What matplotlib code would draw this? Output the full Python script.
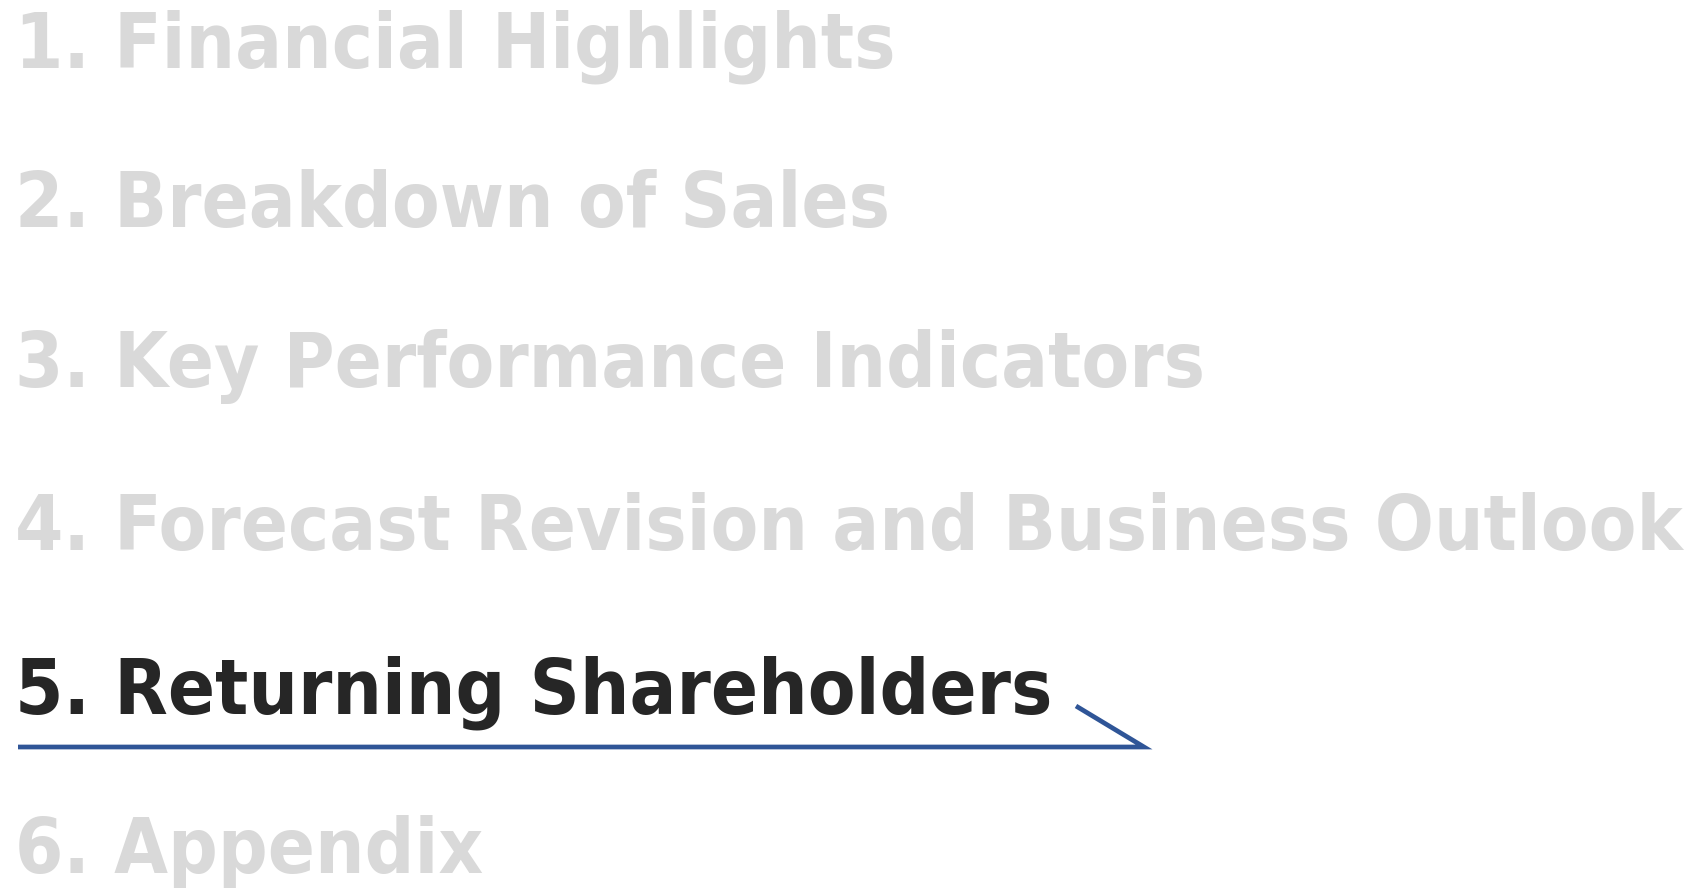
import matplotlib
matplotlib.use("Agg")
import matplotlib.pyplot as plt
from matplotlib.font_manager import FontProperties

items = ["1. Financial Highlights", "2. Breakdown of Sales", "3. Key Performance Indicators",
         "4. Forecast Revision and Business Outlook", "5. Returning Shareholders", "6. Appendix"]
active_index = 4
baselines = [67, 227, 387, 550, 713, 873]

W, H = 1699, 888
fig = plt.figure(figsize=(W / 100, H / 100), dpi=100)
ax = fig.add_axes([0, 0, 1, 1])
ax.set_xlim(0, W)
ax.set_ylim(H, 0)
ax.axis("off")

fp = FontProperties(family="DejaVu Sans", weight="bold", stretch="condensed")

# fit font size so that the longest line spans the target width
target_w = 1667
fs = 58
probe = ax.text(17, 553, items[3], fontproperties=fp)
probe.set_fontsize(fs)
fig.canvas.draw()
bb = probe.get_window_extent(renderer=fig.canvas.get_renderer())
fs = fs * target_w / bb.width
probe.remove()

for i, (t, y) in enumerate(zip(items, baselines)):
    txt = ax.text(15, y, t, fontproperties=fp,
                  color="#262626" if i == active_index else "#D9D9D9",
                  va="baseline", ha="left")
    txt.set_fontsize(fs)

ax.plot([18, 1144, 1076], [747, 747, 706], color="#2F5597", lw=3.4,
        solid_joinstyle="miter", solid_capstyle="butt")

fig.savefig("out.png", dpi=100)
